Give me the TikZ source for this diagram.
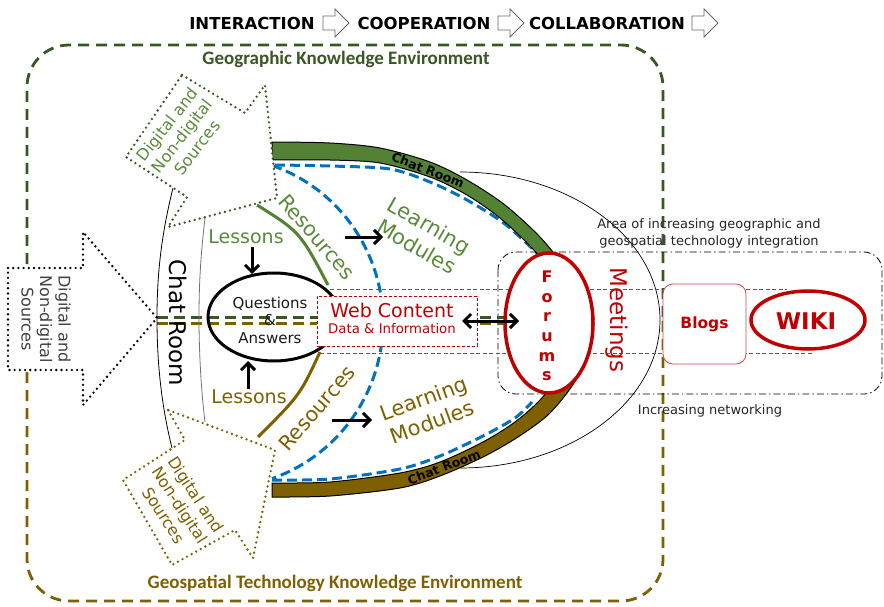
\documentclass[tikz,border=0pt]{standalone}
\usepackage{fontspec}
\setmainfont{DejaVu Sans}
\newfontfamily\calib{Carlito}
\usetikzlibrary{arrows.meta}
\definecolor{envg}{HTML}{385723}
\definecolor{bandg}{HTML}{548235}
\definecolor{txtg}{HTML}{5A8A3A}
\definecolor{oliv}{HTML}{7F6000}
\definecolor{redA}{HTML}{C00000}
\definecolor{blueA}{HTML}{0070C0}
\newcommand\fsz[2]{\fontsize{#1pt}{#2pt}\selectfont}
\begin{document}
\begin{tikzpicture}[x=1pt,y=-1pt,
  envline/.style={line width=2.8pt, dash pattern=on 11pt off 7pt},
  dotarrow/.style={line width=2.6pt, dash pattern=on 0pt off 5.2pt, line cap=round, fill=white},
  bluedash/.style={draw=blueA, line width=3pt, dash pattern=on 10pt off 5pt},
  barb/.style={line width=3pt, -{Straight Barb[length=7pt,width=14pt]}},
  titlearrow/.style={draw=black!60, line width=0.8pt, fill=white},
  titletext/.style={font=\bfseries\fsz{16.5}{19}},
  envlabel/.style={font=\calib\bfseries\fsz{19}{22}},
  srctext/.style={font=\fsz{16}{19}, align=center},
  bigtext/.style={font=\fsz{20.5}{24}, align=center},
  bandlabel/.style={font=\bfseries\fsz{12.5}{14}},
  hdash/.style={line width=3pt, dash pattern=on 11pt off 6pt},
  graydash/.style={draw=black!65, line width=0.8pt, dash pattern=on 4pt off 2.5pt}
]
\useasboundingbox (0,0) rectangle (884,607);
\fill[white] (0,0) rectangle (884,607);

% ---- title row
\node[titletext] (t1) at (252,23) {INTERACTION};
\node[titletext] (t2) at (424,23) {COOPERATION};
\node[titletext] (t3) at (607,23) {COLLABORATION};
\foreach \x in {323,498,692}
  \draw[titlearrow] (\x,16) -- ++(12,0) -- ++(0,-7) -- ++(14,14) -- ++(-14,14) -- ++(0,-7) -- ++(-12,0) -- cycle;

% ---- environments
\draw[envline, envg, rounded corners=42pt] (27,318) -- (27,45) -- (663,45) -- (663,318);
\draw[envline, oliv, rounded corners=42pt] (27,318) -- (27,601) -- (663,601) -- (663,318);
\node[envlabel, text=envg] (geo) at (346,59) {Geographic Knowledge Environment};
\node[envlabel, text=oliv] (geos) at (335,583) {Geospatial Technology Knowledge Environment};

% ---- meetings ellipse
\draw[line width=0.7pt] (460,172) arc[start angle=90, end angle=-90, x radius=200pt, y radius=148pt];

% ---- area box
\draw[line width=0.8pt, dash pattern=on 7pt off 3pt on 1.5pt off 3pt, rounded corners=18pt] (498,252) rectangle (882,394);
\node[font=\fsz{13}{17}, text=black!85, align=center] (area) at (709,233) {Area of increasing geographic and\\geospatial technology integration};
\node[font=\fsz{13}{17}, text=black!85] (net) at (710,411) {Increasing networking};

% ---- gray dashed channel
\coordinate (gt1) at (330,289); \coordinate (gt2) at (787,289);
\coordinate (gb1) at (320,353); \coordinate (gb2) at (813,353);
\draw[graydash] (gt1) -- (gt2);
\draw[graydash] (gb1) -- (gb2);

% ---- green / olive horizontal dashed lines
\coordinate (tip) at (157,318);
\draw[hdash, envg] (157,317) -- (512,317);
\draw[hdash, oliv] (157,323) -- (512,323);

% ---- chat room arcs
\draw[line width=0.8pt] (173,188) .. controls (160,240) and (157,280) .. (157,318) .. controls (157,356) and (160,400) .. (172,448);
\draw[line width=0.8pt, black!55] (205,218) .. controls (200,260) and (199,290) .. (199,318) .. controls (199,350) and (201,390) .. (205,422);
\node[font=\fsz{23}{26}, rotate=-90] (crv) at (178,323) {Chat Room};

% ---- blue dashed
\draw[bluedash] plot[smooth] coordinates {(275,165) (330,166) (390,169) (430,182) (467,200) (505,224) (540,256)};
\draw[bluedash] plot[smooth] coordinates {(272,480) (330,479) (400,469) (440,456) (483,436) (515,418) (532,402)};
\draw[bluedash] (272,165.4) arc[start angle=70.65, end angle=-70.65, radius=166pt];

% ---- bands
\filldraw[fill=bandg, draw=black, line width=1pt] plot[smooth] coordinates {(272,142) (330,143) (380,148) (430,162) (467,180) (505,205) (540,237) (565,268) (584,300) (594,325)} -- plot[smooth] coordinates {(580,325) (572,305) (555,275) (530,246) (500,218) (467,195) (430,177) (380,163) (330,160) (272,160)} -- cycle;
\filldraw[fill=oliv, draw=black, line width=1pt] plot[smooth] coordinates {(594,318) (590,340) (577,378) (550,413) (518,437) (483,457) (440,476) (400,488) (330,496) (272,497)} -- plot[smooth] coordinates {(272,483) (330,482) (400,473) (440,462) (483,442) (515,422) (540,400) (562,372) (575,340) (580,318)} -- cycle;
\node[bandlabel, rotate=-21] (cr1) at (428,170) {Chat Room};
\node[bandlabel, rotate=21] (cr2) at (444,467) {Chat Room};

% ---- dotted source arrows
\filldraw[dotarrow, draw=envg] (182,75) -- (245,113) -- (265,85) -- (277,198) -- (168,227) -- (187,197) -- (126,157) -- cycle;
\filldraw[dotarrow, draw=oliv] (168,410) -- (185,440) -- (123,480) -- (172,565) -- (235,530) -- (253,558) -- (275,450) -- cycle;
\filldraw[dotarrow, draw=black] (8,268) -- (83,268) -- (83,232) -- (tip) -- (83,405) -- (83,370) -- (8,370) -- cycle;
\node[srctext, text=txtg, rotate=52] (srcg) at (182,136) {Digital and\\Non-digital\\Sources};
\node[srctext, text=oliv, rotate=-57] (srco) at (180,505) {Digital and\\Non-digital\\Sources};
\node[srctext, text=black!75, rotate=-90, font=\fsz{16}{18.5}] (srcb) at (46,319) {Digital and\\Non-digital\\Sources};

% ---- questions & answers
\draw[line width=3pt] (274,317) ellipse[x radius=66pt, y radius=44pt];
\node[font=\fsz{15}{17.5}, align=center, text=black!90] (qa) at (270,320) {Questions\\\&\\Answers};
\node[font=\fsz{19}{22}, text=txtg] (lesg) at (246,237) {Lessons};
\node[font=\fsz{19}{22}, text=oliv] (leso) at (249,397) {Lessons};
\coordinate (qatop) at (252,274); \coordinate (qabot) at (248,361);
\coordinate (lesgS) at (252,247); \coordinate (lesoN) at (248,389);
\draw[barb] (lesgS) -- (qatop);
\draw[barb] (lesoN) -- (qabot);

% ---- resources
\draw[bandg, line width=3pt] (257,205) .. controls (300,232) .. (328,285);
\draw[oliv, line width=3pt] (320,352) .. controls (300,395) .. (258,437);
\node[bigtext, text=txtg, rotate=-49] (resg) at (317,237) {Resources};
\node[bigtext, text=oliv, rotate=49] (reso) at (317,408) {Resources};

% ---- learning modules
\node[bigtext, text=txtg, font=\fsz{21}{25}, rotate=-30] (lmg) at (423,236) {Learning\\Modules};
\node[bigtext, text=oliv, font=\fsz{21}{25}, rotate=20] (lmo) at (428,410) {Learning\\Modules};
\coordinate (rg) at (345,237); \coordinate (lg) at (383,237);
\coordinate (ro) at (332,420); \coordinate (lo) at (372,420);
\draw[barb] (rg) -- (lg);
\draw[barb] (ro) -- (lo);

% ---- web content
\node[draw=redA, dash pattern=on 3pt off 2pt, line width=0.8pt, fill=white, minimum width=160pt, minimum height=50pt, inner sep=0pt] (web) at (397,321) {};
\node[text=redA, font=\fsz{19}{22}] (webt) at (392,310) {Web Content};
\node[text=redA, font=\fsz{13.3}{15}] (webd) at (392,329) {Data \& Information};

% ---- forums
\filldraw[fill=white, draw=redA, line width=3.5pt] (549,323) ellipse[x radius=44pt, y radius=70pt];
\node[text=redA, font=\bfseries\fsz{16}{19.6}, align=center] (forums) at (547,326) {F\\o\\r\\u\\m\\s};
\coordinate (da1) at (462,321); \coordinate (da2) at (519,321);
\draw[line width=3pt, {Straight Barb[length=7pt,width=14pt]}-{Straight Barb[length=7pt,width=14pt]}] (da1) -- (da2);

% ---- meetings
\node[text=redA, font=\fsz{23}{26}, rotate=-90] (meet) at (617,320) {Meetings};

% ---- blogs, wiki
\node[draw=redA!70, line width=0.8pt, fill=white, rounded corners=10pt, minimum width=83pt, minimum height=80pt, text=redA, font=\bfseries\fsz{15.5}{18}] (blogs) at (704.5,324) {Blogs};
\filldraw[fill=white, draw=redA, line width=3.5pt] (808,320) ellipse[x radius=57pt, y radius=29pt];
\node[text=redA, font=\bfseries\fsz{23}{26}] (wiki) at (806,321) {WIKI};
\end{tikzpicture}
\end{document}
